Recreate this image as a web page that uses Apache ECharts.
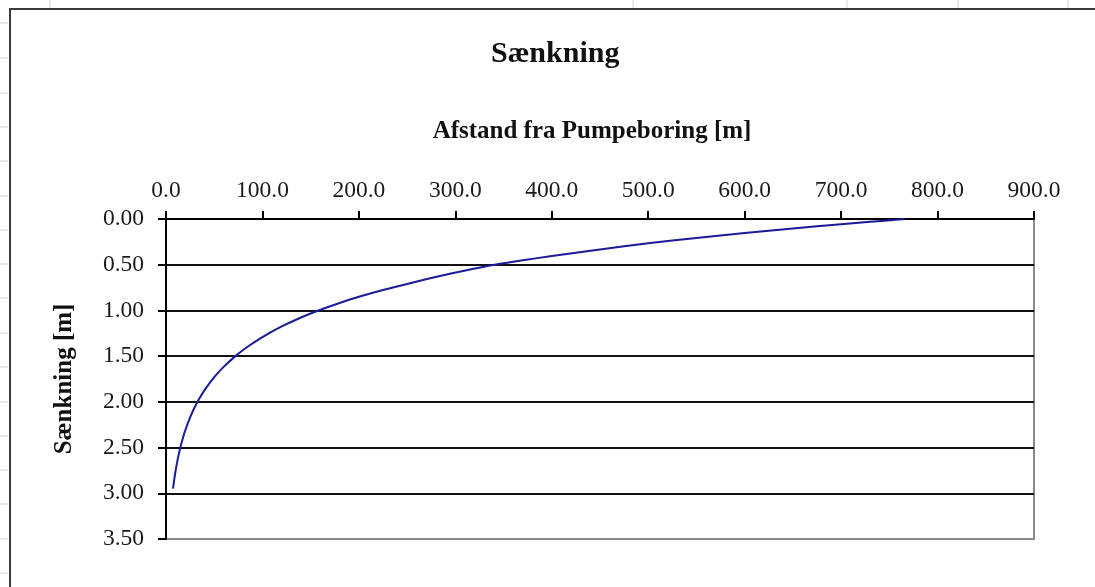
<!DOCTYPE html>
<html>
<head>
<meta charset="utf-8">
<script src="https://cdn.jsdelivr.net/npm/echarts@6/dist/echarts.min.js"></script>
<style>html,body{margin:0;padding:0;background:#fff;}#c{width:1095px;height:587px;}</style>
</head>
<body>
<div id="c"></div>
<script>
const chartTitle = 'Sænkning';
const xName = 'Afstand fra Pumpeboring [m]';
const yName = 'Sænkning [m]';
const distance = [7.3, 8.5, 10, 12, 14.5, 17, 20, 25, 30, 34, 40, 50, 60, 73.5, 85, 100, 120, 140, 158, 180, 200, 225, 250, 290, 336, 370, 400, 450, 500, 550, 600, 650, 700, 730, 766];
const drawdown = [2.95, 2.854, 2.751, 2.635, 2.515, 2.414, 2.311, 2.17, 2.054, 1.975, 1.872, 1.73, 1.615, 1.486, 1.394, 1.291, 1.175, 1.077, 1.001, 0.918, 0.851, 0.777, 0.71, 0.61, 0.508, 0.452, 0.405, 0.333, 0.266, 0.207, 0.153, 0.103, 0.057, 0.031, 0.0];
const xTicks = [0, 900, 100];
const yTicks = [0, 3.5, 0.5];

const serif = '"Liberation Serif", "DejaVu Serif", serif';
const points = distance.map((d, i) => [d, drawdown[i]]);

const chart = echarts.init(document.getElementById('c'), null, {renderer: 'canvas'});

const deco = [];
// outer chart border
deco.push({type: 'rect', shape: {x: 10, y: 9, width: 1200, height: 700}, style: {fill: 'none', stroke: '#3a3a3a', lineWidth: 2}, z: 0});
// sheet gridline remnants
[23, 58, 93, 127, 161, 196, 230, 264, 298, 333, 367, 402, 436, 470, 504, 539, 573].forEach(y => {
  deco.push({type: 'line', shape: {x1: 0, y1: y, x2: 8, y2: y}, style: {stroke: '#d4d4d4', lineWidth: 1}, z: 0});
});
[50, 633, 847, 958, 1068].forEach(x => {
  deco.push({type: 'line', shape: {x1: x, y1: 0, x2: x, y2: 8}, style: {stroke: '#d4d4d4', lineWidth: 1}, z: 0});
});

chart.setOption({
  animation: false,
  backgroundColor: '#fff',
  title: {
    text: chartTitle,
    left: 486,
    top: 34,
    textStyle: {fontFamily: serif, fontWeight: 'bold', fontSize: 30, color: '#111'}
  },
  graphic: deco,
  grid: {left: 166, top: 219, right: 61, bottom: 48, show: true, borderColor: '#8a8a8a', borderWidth: 2, backgroundColor: 'transparent'},
  xAxis: {
    type: 'value',
    position: 'top',
    min: xTicks[0], max: xTicks[1], interval: xTicks[2],
    name: xName,
    nameLocation: 'middle',
    nameGap: 75,
    nameTextStyle: {fontFamily: serif, fontWeight: 'bold', fontSize: 25, color: '#111', padding: [0, 16, 0, 0]},
    axisLine: {show: true, onZero: false, lineStyle: {color: '#000', width: 2}},
    axisTick: {show: true, length: 8, lineStyle: {color: '#000', width: 2}},
    axisLabel: {fontFamily: serif, fontSize: 23.5, color: '#1a1a1a', margin: 16, formatter: v => v.toFixed(1)},
    splitLine: {show: false}
  },
  yAxis: {
    type: 'value',
    inverse: true,
    min: yTicks[0], max: yTicks[1], interval: yTicks[2],
    name: yName,
    nameLocation: 'middle',
    nameGap: 89,
    nameTextStyle: {fontFamily: serif, fontWeight: 'bold', fontSize: 25, color: '#111'},
    axisLine: {show: true, onZero: false, lineStyle: {color: '#000', width: 2}},
    axisTick: {show: true, length: 8, lineStyle: {color: '#000', width: 2}},
    axisLabel: {fontFamily: serif, fontSize: 23.5, color: '#1a1a1a', margin: 22, formatter: v => v.toFixed(2)},
    splitLine: {show: true, lineStyle: {color: ['#000', '#111', '#111', '#111', '#111', '#111', '#111', '#8a8a8a'], width: 2}}
  },
  series: [{
    type: 'line',
    data: points,
    smooth: 0.4,
    showSymbol: false,
    lineStyle: {color: '#1a1a9a', width: 2},
    z: 5
  }]
});
</script>
</body>
</html>
